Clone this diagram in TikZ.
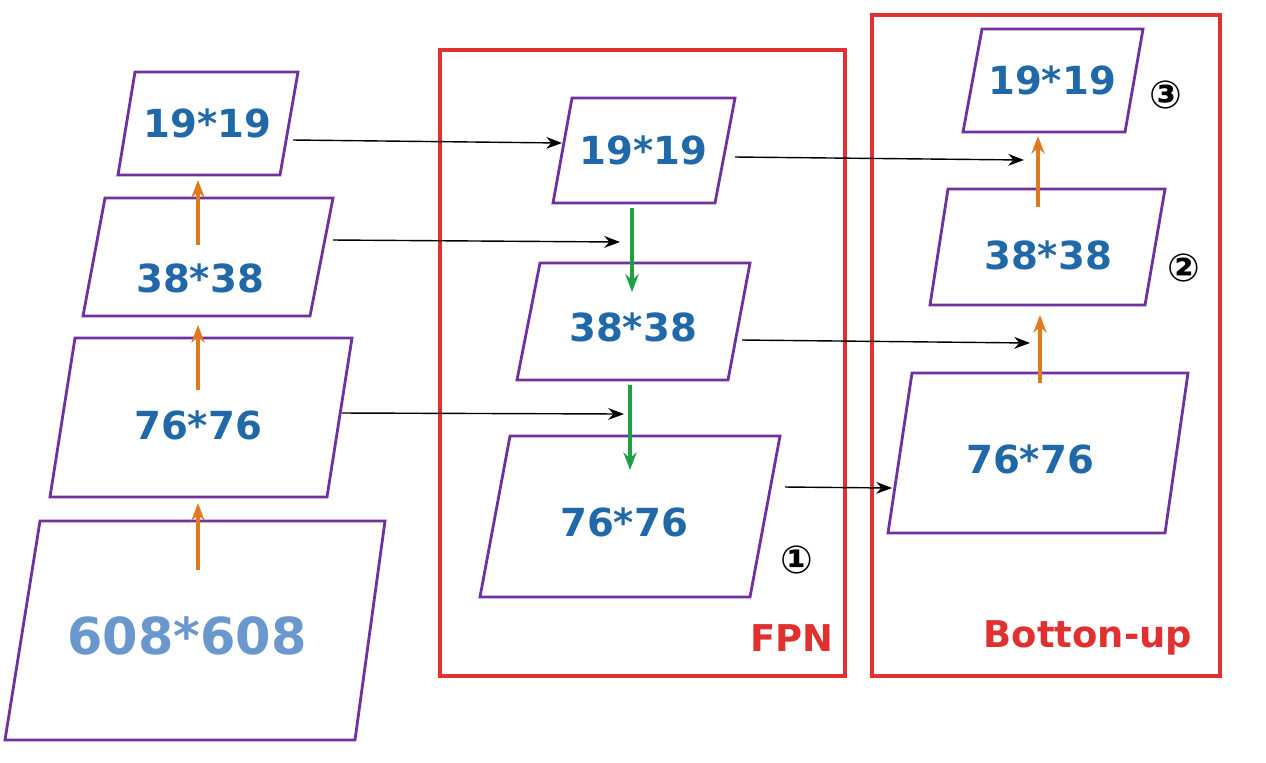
\documentclass[tikz,border=0pt]{standalone}
\usepackage{fontspec}
\setmainfont{DejaVu Sans}
\usetikzlibrary{arrows.meta}
\definecolor{pur}{HTML}{7030A0}
\definecolor{tblue}{HTML}{2068A8}
\definecolor{lblue}{HTML}{6A98CC}
\definecolor{rd}{HTML}{E03030}
\definecolor{org}{HTML}{E07A20}
\definecolor{grn}{HTML}{20A040}
\tikzset{
 para/.style={draw=pur,line width=1.6pt},
 lab/.style={text=tblue,font=\bfseries\fontsize{22}{22}\selectfont},
 box/.style={draw=rd,line width=2pt},
 blk/.style={-{Stealth[length=9pt]},line width=0.8pt,black},
 ora/.style={-{Stealth[length=10pt]},line width=2.2pt,org},
 gr/.style={-{Stealth[length=10pt]},line width=2.2pt,grn},
 num/.style={font=\bfseries\fontsize{22}{22}\selectfont},
 rlab/.style={text=rd,font=\bfseries\fontsize{21}{21}\selectfont}
}
\newcommand{\mypara}[8]{%
 \draw[para] (#3,#2)--(#4,#2)--(#7,#5)--(#6,#5)--cycle;
 \node[lab] (#1) at ({(#3+#4+#6+#7)/4},{(#2+#5)/2}) {#8};}
\begin{document}
\begin{tikzpicture}[x=0.02cm,y=-0.02cm]
\useasboundingbox (0,0) rectangle (1266,762);
% left column
\mypara{l1}{72}{135}{298}{175}{118}{280}{19*19}
\mypara{l2}{198}{105}{333}{316}{83}{310}{}
\node[lab] at (200,278) {38*38};
\mypara{l3}{338}{75}{352}{497}{50}{327}{}
\node[lab] at (198,425) {76*76};
\mypara{l4}{521}{40}{385}{740}{5}{355}{}
\node[text=lblue,font=\bfseries\fontsize{29}{29}\selectfont] at (187,636) {608*608};
\coordinate (a1s) at (198,570); \coordinate (a1e) at (198,503);
\coordinate (a2s) at (198,390); \coordinate (a2e) at (198,325);
\coordinate (a3s) at (198,245); \coordinate (a3e) at (198,180);
\draw[ora] (a1s)--(a1e); \draw[ora] (a2s)--(a2e); \draw[ora] (a3s)--(a3e);
% FPN
\draw[box] (440,50) rectangle (845,676);
\node[rlab] at (792,638) {FPN};
\mypara{f1}{98}{572}{735}{203}{553}{715}{19*19}
\mypara{f2}{263}{540}{750}{380}{517}{728}{}
\node[lab] at (633,327) {38*38};
\mypara{f3}{436}{510}{780}{597}{480}{750}{}
\node[lab] at (624,522) {76*76};
\node[num] at (797,560) {①};
\coordinate (g1s) at (632,208); \coordinate (g1e) at (632,292);
\coordinate (g2s) at (630,385); \coordinate (g2e) at (630,470);
\draw[gr] (g1s)--(g1e); \draw[gr] (g2s)--(g2e);
\coordinate (b1s) at (293,140); \coordinate (b1e) at (562,143);
\coordinate (b2s) at (333,240); \coordinate (b2e) at (620,242);
\coordinate (b3s) at (342,413); \coordinate (b3e) at (624,414);
\draw[blk] (b1s)--(b1e); \draw[blk] (b2s)--(b2e); \draw[blk] (b3s)--(b3e);
% Bottom-up
\draw[box] (872,15) rectangle (1220,676);
\node[rlab] at (1088,638) {Botton-up};
\mypara{u1}{29}{982}{1143}{132}{963}{1125}{}
\node[lab] at (1052,80) {19*19};
\mypara{u2}{189}{948}{1165}{305}{930}{1145}{}
\node[lab] at (1048,255) {38*38};
\mypara{u3}{373}{912}{1188}{533}{888}{1165}{}
\node[lab] at (1030,459) {76*76};
\node[num] at (1166,95) {③};
\node[num] at (1184,268) {②};
\coordinate (o1s) at (1040,383); \coordinate (o1e) at (1040,315);
\coordinate (o2s) at (1038,207); \coordinate (o2e) at (1038,136);
\draw[ora] (o1s)--(o1e); \draw[ora] (o2s)--(o2e);
\coordinate (c1s) at (735,157); \coordinate (c1e) at (1024,160);
\coordinate (c2s) at (742,340); \coordinate (c2e) at (1030,343);
\coordinate (c3s) at (785,487); \coordinate (c3e) at (892,488);
\draw[blk] (c1s)--(c1e); \draw[blk] (c2s)--(c2e); \draw[blk] (c3s)--(c3e);
\end{tikzpicture}
\end{document}
